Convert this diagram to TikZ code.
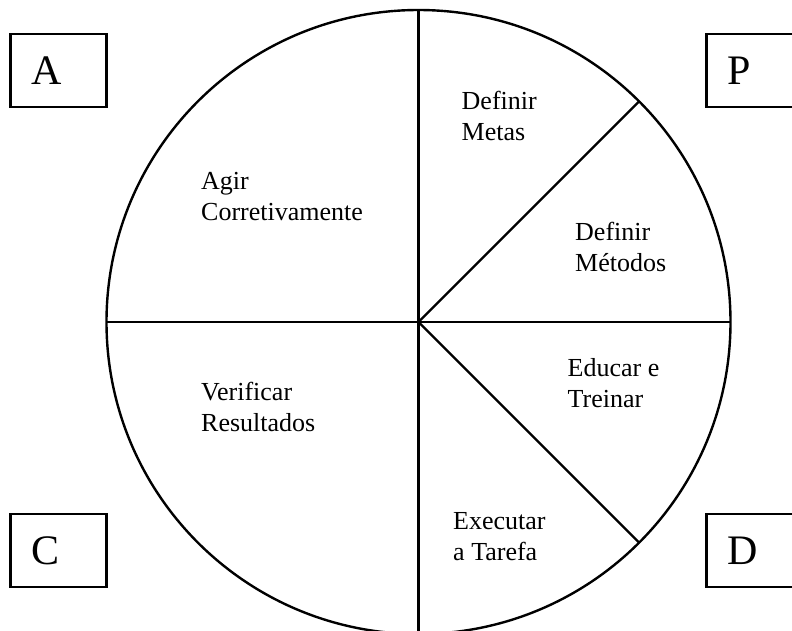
\documentclass[tikz,border=0pt]{standalone}
\usepackage{fontspec}
\setmainfont{Liberation Serif}
\begin{document}
\begin{tikzpicture}[x=1pt, y=-1pt, line width=2.4pt,
  phase/.style={draw, rectangle, anchor=north west, outer sep=0pt, minimum width=96pt, minimum height=73pt, text width=54pt, inner xsep=21pt, align=left, font=\fontsize{42}{50}\selectfont},
  task/.style={anchor=base west, inner sep=0pt, align=left, font=\fontsize{26}{31}\selectfont}]
\useasboundingbox (0,0) rectangle (792,630);
\clip (0,0) rectangle (792,630);
\node[draw, circle, minimum size=624pt, inner sep=0pt, outer sep=0pt] (ring) at (418.5,322) {};
\coordinate (O) at (ring.center);
\node[phase] (A) at (10.5,34) {A};
\node[phase] (P) at (706.5,34) {P};
\node[phase] (C) at (10.5,514) {C};
\node[phase] (D) at (706.5,514) {D};
\draw (ring.north) -- (ring.south);
\draw (ring.west) -- (ring.east);
\draw (O) -- (ring.45);
\draw (O) -- (ring.-45);
\node[task] (metas) at (460.5,140) {Definir\\Metas};
\node[task] (metodos) at (574,271) {Definir\\Métodos};
\node[task] (treinar) at (566.5,407) {Educar e\\Treinar};
\node[task] (tarefa) at (452,560) {Executar\\a Tarefa};
\node[task] (resultados) at (200,431) {Verificar\\Resultados};
\node[task] (corretivamente) at (200,220.5) {Agir\\Corretivamente};
\end{tikzpicture}
\end{document}
